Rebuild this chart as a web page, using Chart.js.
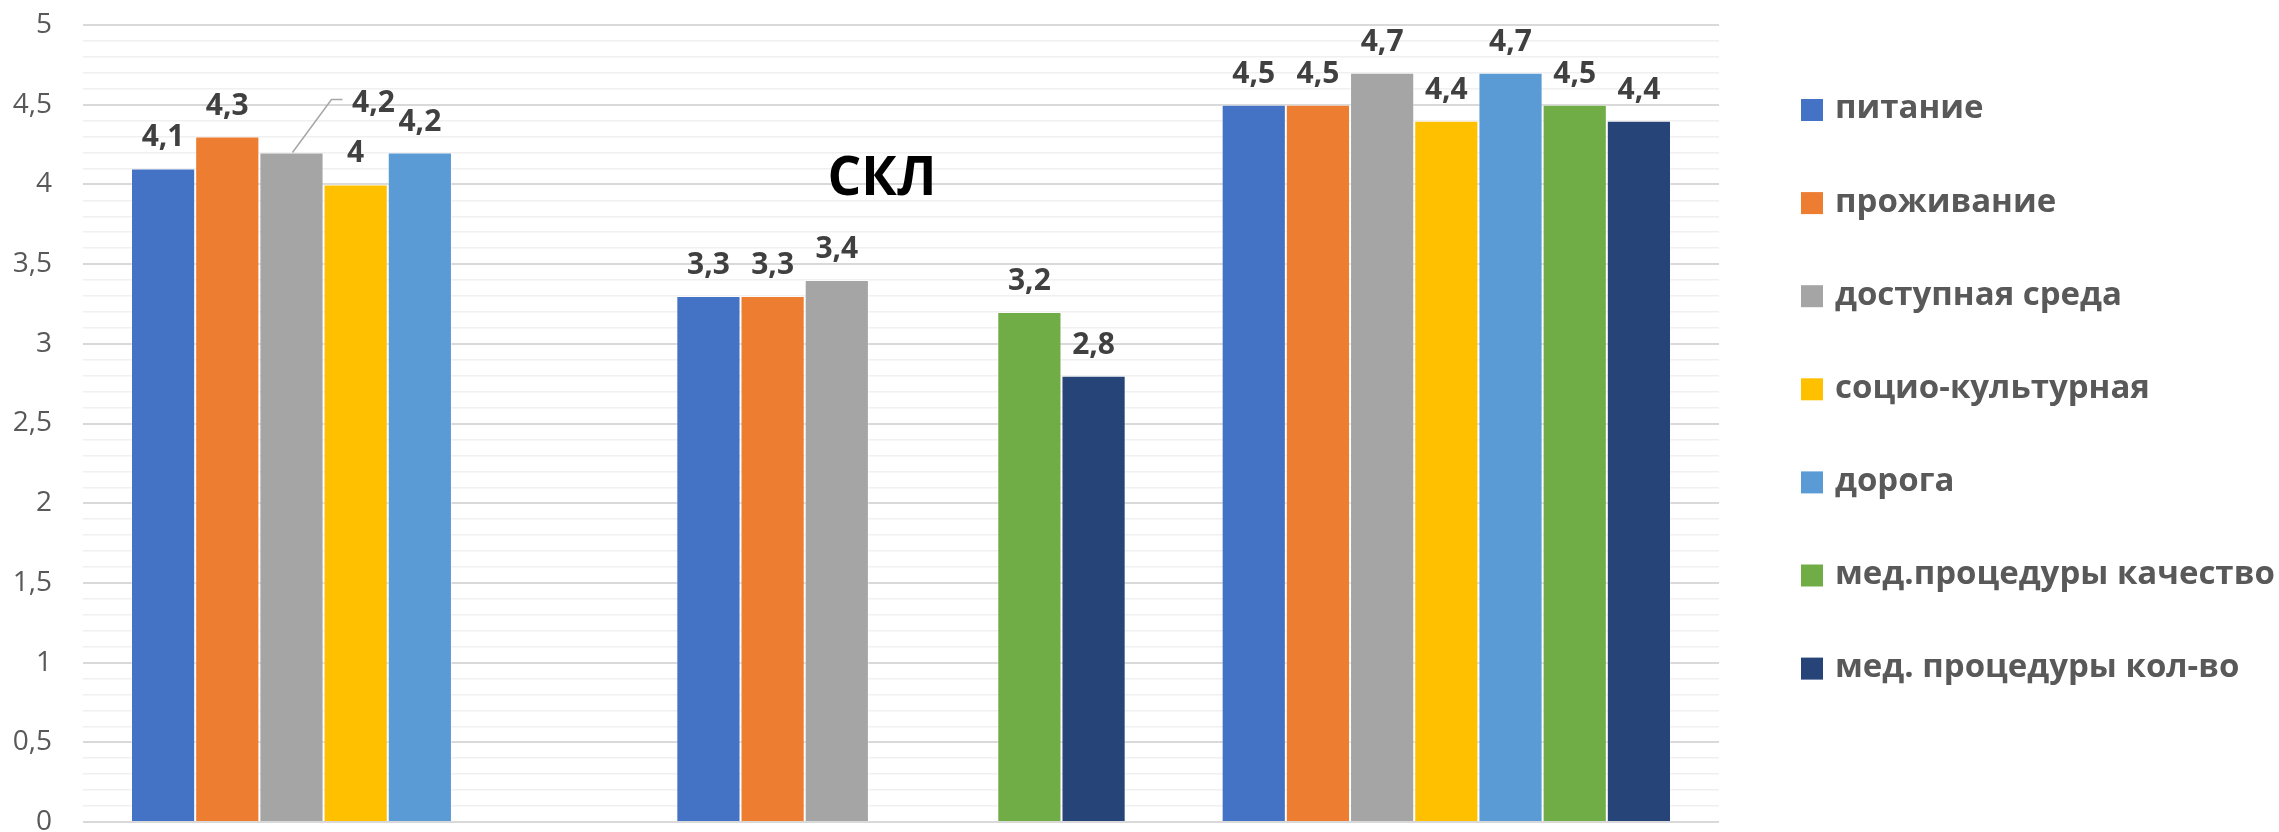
<!DOCTYPE html>
<html>
<head>
<meta charset="utf-8">
<script src="https://cdn.jsdelivr.net/npm/chart.js@4/dist/chart.umd.min.js"></script>
<style>
  html, body { margin: 0; padding: 0; background: #ffffff; }
  #wrap { position: relative; width: 2279px; height: 832px; }
</style>
</head>
<body>
<div id="wrap"><canvas id="c" width="2279" height="832"></canvas></div>
<script>
// ---- data ----
const categories = ["", "СКЛ", ""];
const seriesNames = ["питание", "проживание", "доступная среда", "социо-культурная", "дорога", "мед.процедуры качество", "мед. процедуры кол-во"];
const pitanie      = [4.1, 3.3, 4.5];
const prozhivanie  = [4.3, 3.3, 4.5];
const dostupnaya   = [4.2, 3.4, 4.7];
const sociokult    = [4.0, null, 4.4];
const doroga       = [4.2, null, 4.7];
const medKachestvo = [null, 3.2, 4.5];
const medKolvo     = [null, 2.8, 4.4];
const yTickLabels  = ["0", "0,5", "1", "1,5", "2", "2,5", "3", "3,5", "4", "4,5", "5"];
const overlayTitle = "СКЛ";

const seriesValues = [pitanie, prozhivanie, dostupnaya, sociokult, doroga, medKachestvo, medKolvo];
const colors = ["#4472C4", "#ED7D31", "#A5A5A5", "#FFC000", "#5B9BD5", "#70AD47", "#264478"];

const FONT = "'Open Sans', 'DejaVu Sans', sans-serif";

// label moved with a leader line (dataset 2, category 0)
const movedLabel = { ds: 2, idx: 0, dx: 82, dy: -19 };

const labelsPlugin = {
  id: 'valueLabels',
  afterDatasetsDraw(chart) {
    const ctx = chart.ctx;
    ctx.save();
    ctx.font = "bold 30px " + FONT;
    ctx.fillStyle = "#404040";
    ctx.textAlign = "center";
    ctx.textBaseline = "alphabetic";
    chart.data.datasets.forEach((ds, di) => {
      const meta = chart.getDatasetMeta(di);
      meta.data.forEach((el, i) => {
        const v = ds.data[i];
        if (v === null || v === undefined) return;
        const txt = String(v).replace('.', ',');
        let x = el.x, y = el.y - 22;
        if (di === movedLabel.ds && i === movedLabel.idx) {
          const lx = el.x + movedLabel.dx, ly = y + movedLabel.dy;
          // leader line
          ctx.save();
          ctx.strokeStyle = "#A6A6A6";
          ctx.lineWidth = 1.5;
          ctx.beginPath();
          ctx.moveTo(el.x + 1, el.y);
          ctx.lineTo(lx - 42, ly - 12);
          ctx.lineTo(lx - 31, ly - 12);
          ctx.stroke();
          ctx.restore();
          x = lx; y = ly;
        }
        ctx.fillText(txt, x, y);
      });
    });
    ctx.restore();
  }
};

const overlayPlugin = {
  id: 'overlay',
  afterDraw(chart) {
    const ctx = chart.ctx;
    const area = chart.chartArea;
    ctx.save();
    // "СКЛ" text box
    ctx.font = "bold 53px " + FONT;
    ctx.fillStyle = "#000000";
    ctx.textAlign = "center";
    ctx.textBaseline = "alphabetic";
    const xs = chart.scales.x;
    ctx.fillText(overlayTitle, xs.getPixelForValue(1) - 19, area.top + 170);

    // legend
    ctx.font = "bold 33px " + FONT;
    ctx.textAlign = "left";
    ctx.textBaseline = "middle";
    const bx = area.right + 82;
    chart.data.datasets.forEach((ds, di) => {
      const cy = area.top + 85 + di * 93.1;
      ctx.fillStyle = ds.backgroundColor;
      ctx.fillRect(bx, cy - 11, 22, 22);
      ctx.fillStyle = "#595959";
      ctx.fillText(ds.label, bx + 34, cy - 1);
    });
    ctx.restore();
  }
};

const datasets = seriesNames.map((name, i) => ({
  label: name,
  data: seriesValues[i],
  backgroundColor: colors[i],
  borderColor: "rgba(255,255,255,0.45)",
  borderWidth: 1,
  categoryPercentage: 0.824,
  barPercentage: 1.0
}));

new Chart(document.getElementById('c'), {
  type: 'bar',
  data: { labels: categories, datasets },
  options: {
    responsive: false,
    animation: false,
    devicePixelRatio: 1,
    layout: { padding: { left: 0, right: 560, top: 25, bottom: 10 } },
    plugins: {
      legend: { display: false },
      title: { display: false },
      tooltip: { enabled: false }
    },
    scales: {
      x: {
        display: false,
        grid: { display: false }
      },
      y: {
        min: 0,
        max: 5,
        afterFit(scale) {
          scale.width = 83;
          scale.paddingTop = 0;
          scale.paddingBottom = 0;
        },
        afterBuildTicks(scale) {
          const t = [];
          for (let k = 0; k <= 50; k++) t.push({ value: k / 10 });
          scale.ticks = t;
        },
        ticks: {
          autoSkip: false,
          padding: 31,
          color: "#595959",
          font: { family: FONT, size: 28 },
          callback(value) {
            const k = Math.round(value * 10);
            return (k % 5 === 0) ? yTickLabels[k / 5] : '';
          }
        },
        grid: {
          drawTicks: false,
          color(ctx) {
            const k = Math.round(ctx.tick.value * 10);
            return (k % 5 === 0) ? "#D9D9D9" : "#F0F0F0";
          },
          lineWidth(ctx) {
            const k = Math.round(ctx.tick.value * 10);
            return (k % 5 === 0) ? 2 : 1.5;
          }
        },
        border: { display: false }
      }
    }
  },
  plugins: [labelsPlugin, overlayPlugin]
});
</script>
</body>
</html>
